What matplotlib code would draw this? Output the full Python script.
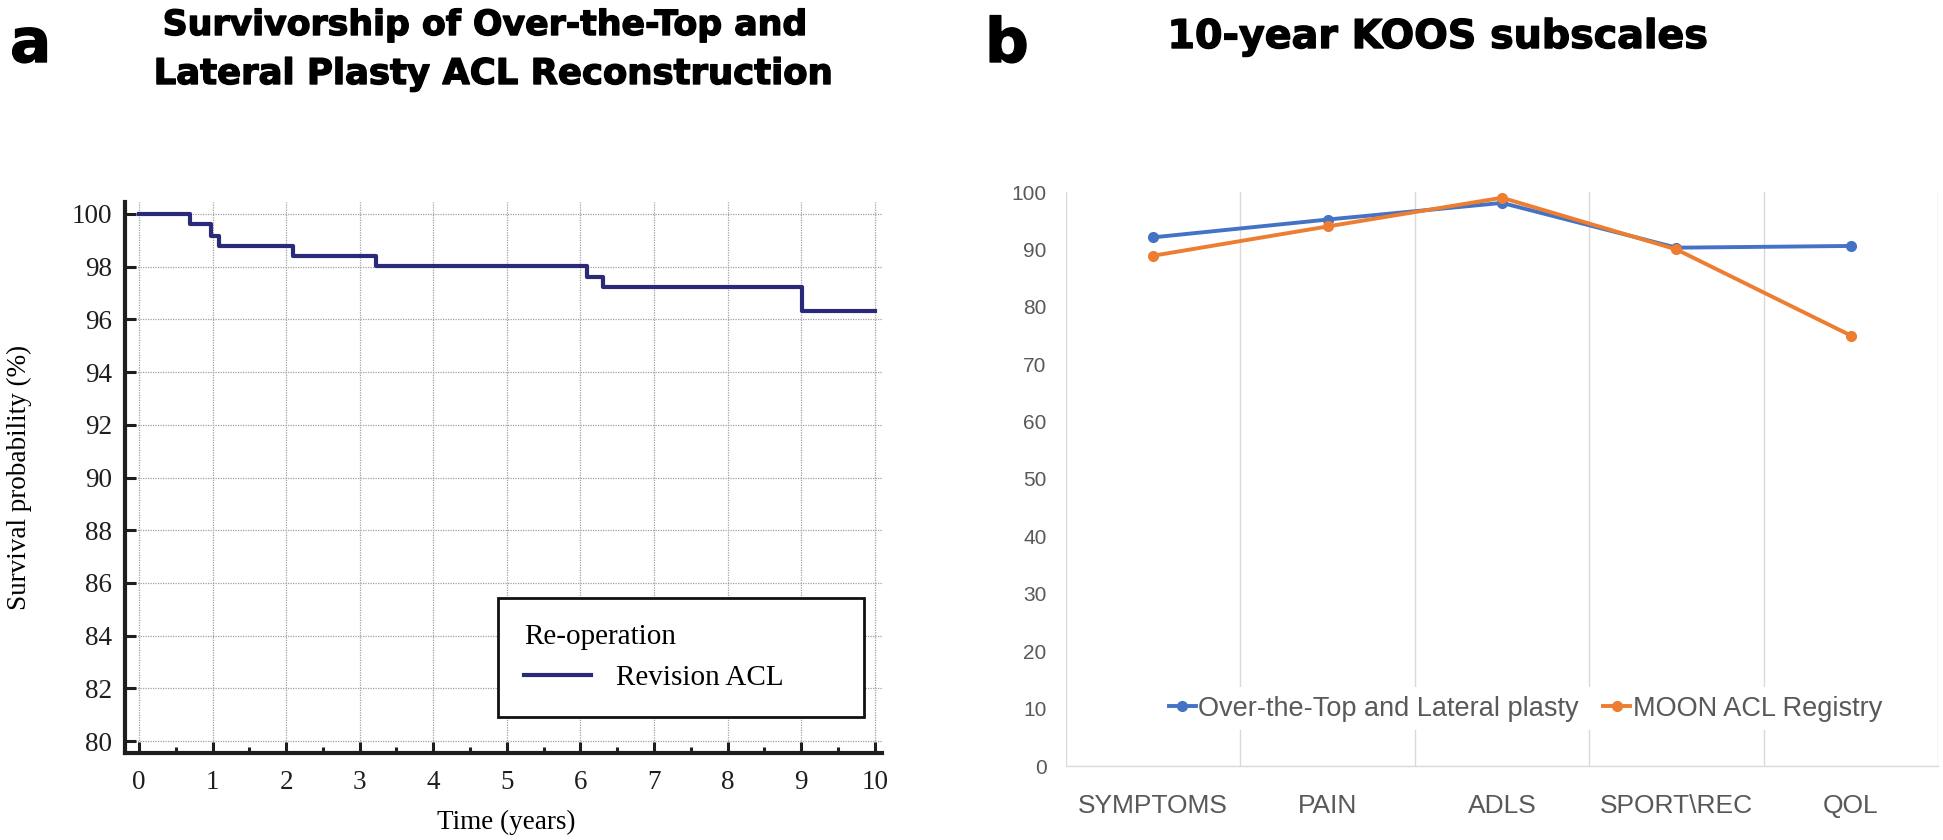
import numpy as np
import matplotlib
matplotlib.use("Agg")
import matplotlib.pyplot as plt
import matplotlib.patheffects as pe
from matplotlib.lines import Line2D

# ---------------- data ----------------
km_time = [0.0, 0.69, 0.98, 1.09, 2.09, 3.22, 6.09, 6.31, 9.01, 10.0]
km_surv = [100.0, 99.6, 99.17, 98.77, 98.4, 98.02, 97.62, 97.22, 96.3, 96.3]

koos_categories = ["SYMPTOMS", "PAIN", "ADLS", "SPORT\\REC", "QOL"]
otl_values = [92.1, 95.2, 98.1, 90.3, 90.6]
moon_values = [88.9, 94.0, 99.0, 90.0, 75.0]

W, H = 1943, 840
fig = plt.figure(figsize=(W / 100, H / 100), dpi=100)

def ax_rect(x0, y0, x1, y1):
    return [x0 / W, 1 - y1 / H, (x1 - x0) / W, (y1 - y0) / H]

serif = ["Liberation Serif", "DejaVu Serif"]
sans = ["Liberation Sans", "DejaVu Sans"]
heavy = ["DejaVu Sans"]
thick = [pe.withStroke(linewidth=1.0, foreground="black")]

# ---------------- panel a ----------------
AX0, AY0, AX1, AY1 = 125, 202, 882, 753
ax1 = fig.add_axes(ax_rect(AX0, AY0, AX1, AY1))
ax1.step(km_time, km_surv, where="post", color="#2a2a78", lw=3.0)
ax1.set_xlim(-0.19, 10.1)
ax1.set_ylim(79.55, 100.45)
ax1.set_xticks(np.arange(0, 11, 1))
ax1.set_xticks(np.arange(0.5, 10, 1), minor=True)
ax1.set_yticks(np.arange(80, 101, 2))
ax1.grid(True, which="major", color="#a0a0a0", ls=(0, (1, 1)), lw=0.9)
for s in ["top", "right"]:
    ax1.spines[s].set_visible(False)
for s in ["left", "bottom"]:
    ax1.spines[s].set_linewidth(3.0)
    ax1.spines[s].set_color("#1e1e1e")
ax1.tick_params(axis="both", which="major", direction="in", length=8, width=2.2,
                labelsize=19.5, colors="#1e1e1e")
ax1.tick_params(axis="x", which="major", pad=12)
ax1.tick_params(axis="y", which="major", pad=9)
ax1.tick_params(axis="x", which="minor", direction="in", length=4, width=2.2, colors="#1e1e1e")
for lab in ax1.get_xticklabels() + ax1.get_yticklabels():
    lab.set_family(serif)
ax1.set_xlabel("Time (years)", fontsize=19.5, family=serif)
ax1.xaxis.label.set_va("center")
ax1.xaxis.set_label_coords((506 - AX0) / (AX1 - AX0), (AY1 - 822) / (AY1 - AY0))
ax1.set_ylabel("Survival probability (%)", fontsize=19.5, family=serif)
ax1.yaxis.label.set_va("center")
ax1.yaxis.set_label_coords((19 - AX0) / (AX1 - AX0), (AY1 - 477) / (AY1 - AY0))

LX0, LY0, LX1, LY1 = 498, 596, 864, 717
leg1 = ax1.legend([Line2D([0], [0], color="#2a2a78", lw=3.0)], ["Revision ACL"],
                  title="Re-operation", loc="lower left",
                  bbox_to_anchor=((LX0 - AX0) / (AX1 - AX0), (AY1 - LY1) / (AY1 - AY0),
                                  (LX1 - LX0) / (AX1 - AX0), (LY1 - LY0) / (AY1 - AY0)),
                  mode="expand", borderaxespad=0, fancybox=False, framealpha=1,
                  edgecolor="#111111", prop={"family": serif, "size": 21},
                  handlelength=2.3, handletextpad=0.85, borderpad=0.9)
leg1.get_frame().set_linewidth(2.0)
leg1.get_title().set_family(serif)
leg1.get_title().set_fontsize(21)
leg1._legend_box.align = "left"

fig.text(485 / W, 1 - 35 / H, "Survivorship of Over-the-Top and",
         ha="center", va="baseline", fontsize=25, weight="bold", family=heavy,
         path_effects=thick)
fig.text(493 / W, 1 - 84 / H, "Lateral Plasty ACL Reconstruction",
         ha="center", va="baseline", fontsize=25.5, weight="bold", family=heavy,
         path_effects=thick)
fig.text(10 / W, 1 - 62 / H, "a", ha="left", va="baseline", fontsize=44, weight="bold",
         family=heavy, path_effects=thick)

# ---------------- panel b ----------------
BX0, BY0, BX1, BY1 = 1066, 192, 1938, 766
ax2 = fig.add_axes(ax_rect(BX0, BY0, BX1, BY1))
x = np.arange(len(koos_categories))
ax2.plot(x, otl_values, color="#4472C4", lw=2.8, marker="o", ms=7,
         label="Over-the-Top and Lateral plasty")
ax2.plot(x, moon_values, color="#ED7D31", lw=2.8, marker="o", ms=7,
         label="MOON ACL Registry")
ax2.set_xlim(-0.5, len(koos_categories) - 0.5)
ax2.set_ylim(0, 100)
ax2.set_yticks(np.arange(0, 101, 10))
ax2.set_xticks(x)
ax2.set_xticklabels(koos_categories)
ax2.set_xticks(np.arange(-0.5, len(koos_categories)), minor=True)
ax2.grid(True, which="minor", axis="x", color="#d9d9d9", lw=1.0)
ax2.set_axisbelow(True)
for s in ["top", "right", "left"]:
    ax2.spines[s].set_visible(False)
ax2.spines["bottom"].set_color("#d9d9d9")
ax2.spines["bottom"].set_linewidth(1.0)
ax2.tick_params(axis="both", which="both", length=0, colors="#595959")
ax2.tick_params(axis="y", labelsize=15, pad=14)
ax2.tick_params(axis="x", labelsize=19, pad=20)
for lab in ax2.get_xticklabels() + ax2.get_yticklabels():
    lab.set_family(sans)
leg2 = ax2.legend(loc="center", bbox_to_anchor=(0.527, 0.1), ncol=2, frameon=True,
                  facecolor="white", edgecolor="none", framealpha=1,
                  prop={"family": sans, "size": 19.5}, handlelength=1.0,
                  handletextpad=0.1, columnspacing=0.9, borderpad=0.3)
for t in leg2.get_texts():
    t.set_color("#595959")

fig.text(1438 / W, 1 - 48 / H, "10-year KOOS subscales",
         ha="center", va="baseline", fontsize=28.5, weight="bold", family=heavy,
         path_effects=thick)
fig.text(985 / W, 1 - 62 / H, "b", ha="left", va="baseline", fontsize=44, weight="bold",
         family=heavy, path_effects=thick)

fig.savefig("out.png", dpi=100)
